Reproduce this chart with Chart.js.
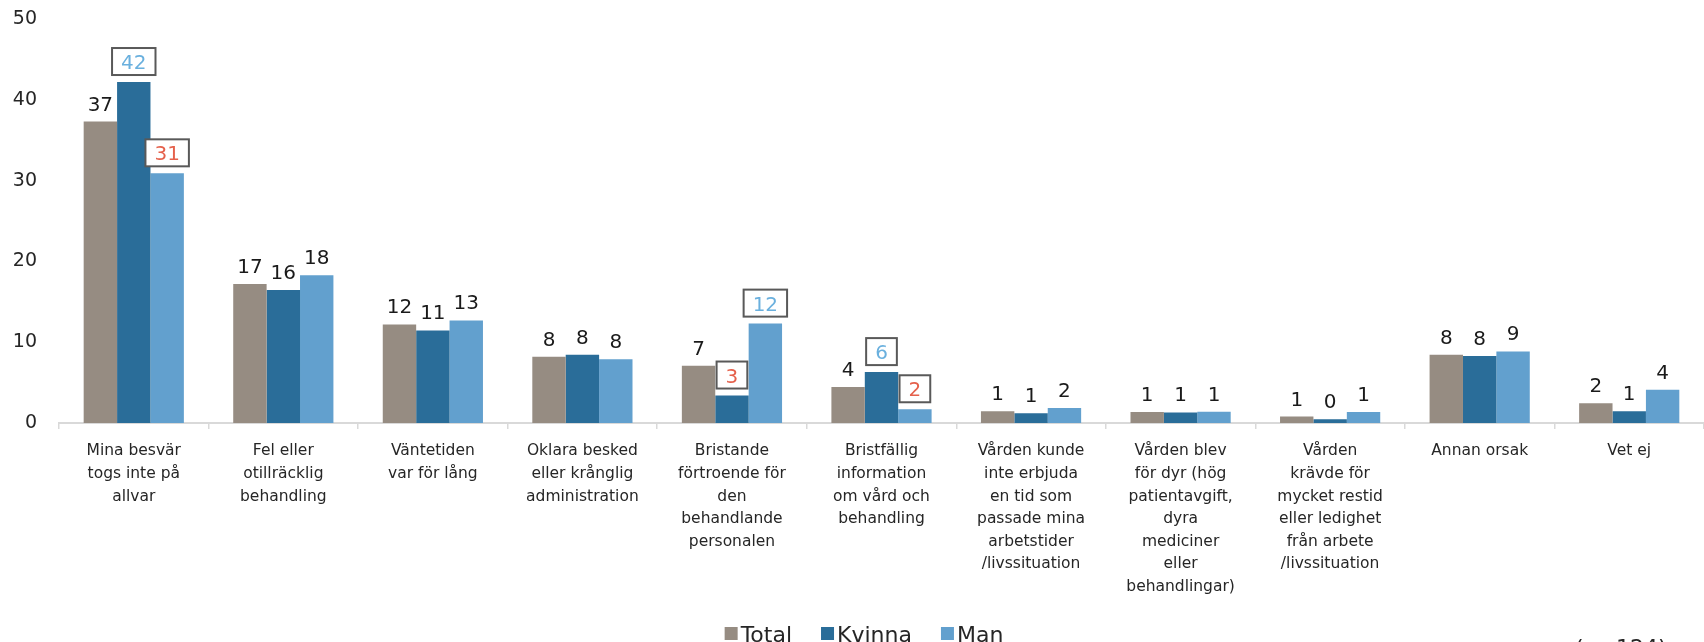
<!DOCTYPE html>
<html>
<head>
<meta charset="utf-8">
<script src="https://cdn.jsdelivr.net/npm/chart.js@4.4.1/dist/chart.umd.min.js"></script>
<style>
  html, body { margin: 0; padding: 0; background: #ffffff; overflow: hidden; }
  #wrap { position: relative; width: 1704px; height: 642px; }
</style>
</head>
<body>
<div id="wrap"><canvas id="c" width="1704" height="642"></canvas></div>
<script>
// Reasons for dissatisfaction with care, percent of respondents
const categories = [
  ['Mina besvär', 'togs inte på', 'allvar'],
  ['Fel eller', 'otillräcklig', 'behandling'],
  ['Väntetiden', 'var för lång'],
  ['Oklara besked', 'eller krånglig', 'administration'],
  ['Bristande', 'förtroende för', 'den', 'behandlande', 'personalen'],
  ['Bristfällig', 'information', 'om vård och', 'behandling'],
  ['Vården kunde', 'inte erbjuda', 'en tid som', 'passade mina', 'arbetstider', '/livssituation'],
  ['Vården blev', 'för dyr (hög', 'patientavgift,', 'dyra', 'mediciner', 'eller', 'behandlingar)'],
  ['Vården', 'krävde för', 'mycket restid', 'eller ledighet', 'från arbete', '/livssituation'],
  ['Annan orsak'],
  ['Vet ej']
];
const seriesNames = ['Total', 'Kvinna', 'Man'];
const totalValues  = [37.3, 17.2, 12.2, 8.2, 7.1, 4.45, 1.45, 1.35, 0.8, 8.45, 2.45];
const kvinnaValues = [42.2, 16.45, 11.45, 8.45, 3.4, 6.3, 1.2, 1.3, 0.45, 8.3, 1.45];
const manValues    = [30.9, 18.3, 12.7, 7.9, 12.3, 1.7, 1.85, 1.4, 1.35, 8.85, 4.1];
// significance marks: 'hi' = significantly higher, 'lo' = significantly lower
const totalMarks  = [null, null, null, null, null, null, null, null, null, null, null];
const kvinnaMarks = ['hi', null, null, null, 'lo', 'hi', null, null, null, null, null];
const manMarks    = ['lo', null, null, null, 'hi', 'lo', null, null, null, null, null];
const yTicks = [0, 10, 20, 30, 40, 50];
const sampleNote = '(n=124)';

const seriesColors = ['#968c82', '#2a6d99', '#62a0ce'];
const markSets = [totalMarks, kvinnaMarks, manMarks];
const FONT = '"DejaVu Sans", sans-serif';
const TEXT = '#262626';

const valueLabels = {
  id: 'valueLabels',
  afterDatasetsDraw(chart) {
    const ctx = chart.ctx;
    chart.data.datasets.forEach((ds, di) => {
      const meta = chart.getDatasetMeta(di);
      meta.data.forEach((bar, i) => {
        const txt = String(Math.round(ds.data[i]));
        const mark = markSets[di][i];
        ctx.save();
        ctx.font = '20px ' + FONT;
        ctx.textAlign = 'center';
        if (mark) {
          const w = ctx.measureText(txt).width + 18, h = 27;
          const bx = bar.x - w / 2, by = bar.y - 7 - h;
          ctx.fillStyle = '#ffffff';
          ctx.fillRect(bx, by, w, h);
          ctx.strokeStyle = '#595959';
          ctx.lineWidth = 2;
          ctx.strokeRect(bx, by, w, h);
          ctx.fillStyle = mark === 'hi' ? '#6ab0de' : '#e5614c';
          ctx.textBaseline = 'alphabetic';
          ctx.fillText(txt, bar.x, by + h / 2 + 7.5);
        } else {
          ctx.fillStyle = '#1a1a1a';
          ctx.textBaseline = 'alphabetic';
          ctx.fillText(txt, bar.x, bar.y - 11);
        }
        ctx.restore();
      });
    });
  }
};

const legendRow = {
  id: 'legendRow',
  afterDraw(chart) {
    const ctx = chart.ctx;
    ctx.save();
    ctx.font = '22px ' + FONT;
    const box = 13, gap = 3, itemGap = 29;
    const items = chart.data.datasets.map(d => ({
      label: d.label, color: d.backgroundColor, w: ctx.measureText(d.label).width
    }));
    const total = items.reduce((s, it) => s + box + gap + it.w, 0) + itemGap * (items.length - 1);
    let x = 864 - total / 2;
    items.forEach(it => {
      ctx.fillStyle = it.color;
      ctx.fillRect(x, 627, box, box);
      ctx.fillStyle = TEXT;
      ctx.textBaseline = 'alphabetic';
      ctx.textAlign = 'left';
      ctx.fillText(it.label, x + box + gap, 642);
      x += box + gap + it.w + itemGap;
    });
    ctx.fillText(sampleNote, 1575, 655);
    ctx.restore();
  }
};

new Chart(document.getElementById('c'), {
  type: 'bar',
  data: {
    labels: categories,
    datasets: [
      { label: seriesNames[0], data: totalValues,  backgroundColor: seriesColors[0] },
      { label: seriesNames[1], data: kvinnaValues, backgroundColor: seriesColors[1] },
      { label: seriesNames[2], data: manValues,    backgroundColor: seriesColors[2] }
    ]
  },
  options: {
    responsive: false,
    animation: false,
    events: [],
    categoryPercentage: 0.67,
    barPercentage: 1.0,
    layout: { padding: { top: 19, left: 0, right: 0, bottom: 0 } },
    plugins: { legend: { display: false }, tooltip: { enabled: false } },
    scales: {
      x: {
        grid: { display: true, drawOnChartArea: false, drawTicks: true, tickLength: 6,
                color: '#d9d9d9', lineWidth: 1.5, offset: true },
        border: { display: true, color: '#d9d9d9', width: 2 },
        ticks: { autoSkip: false, maxRotation: 0, minRotation: 0, padding: 11, color: TEXT,
                 font: { family: FONT, size: 15.5, lineHeight: 1.46 } },
        afterFit(s) { s.height = 219; }
      },
      y: {
        min: 0, max: 50,
        afterBuildTicks(s) { s.ticks = yTicks.map(v => ({ value: v })); },
        grid: { display: false, drawTicks: false },
        border: { display: false },
        ticks: { padding: 22, color: TEXT, font: { family: FONT, size: 19 } },
        afterFit(s) { s.width = 59; s.paddingTop = 0; s.paddingBottom = 0; }
      }
    }
  },
  plugins: [valueLabels, legendRow]
});
</script>
</body>
</html>
